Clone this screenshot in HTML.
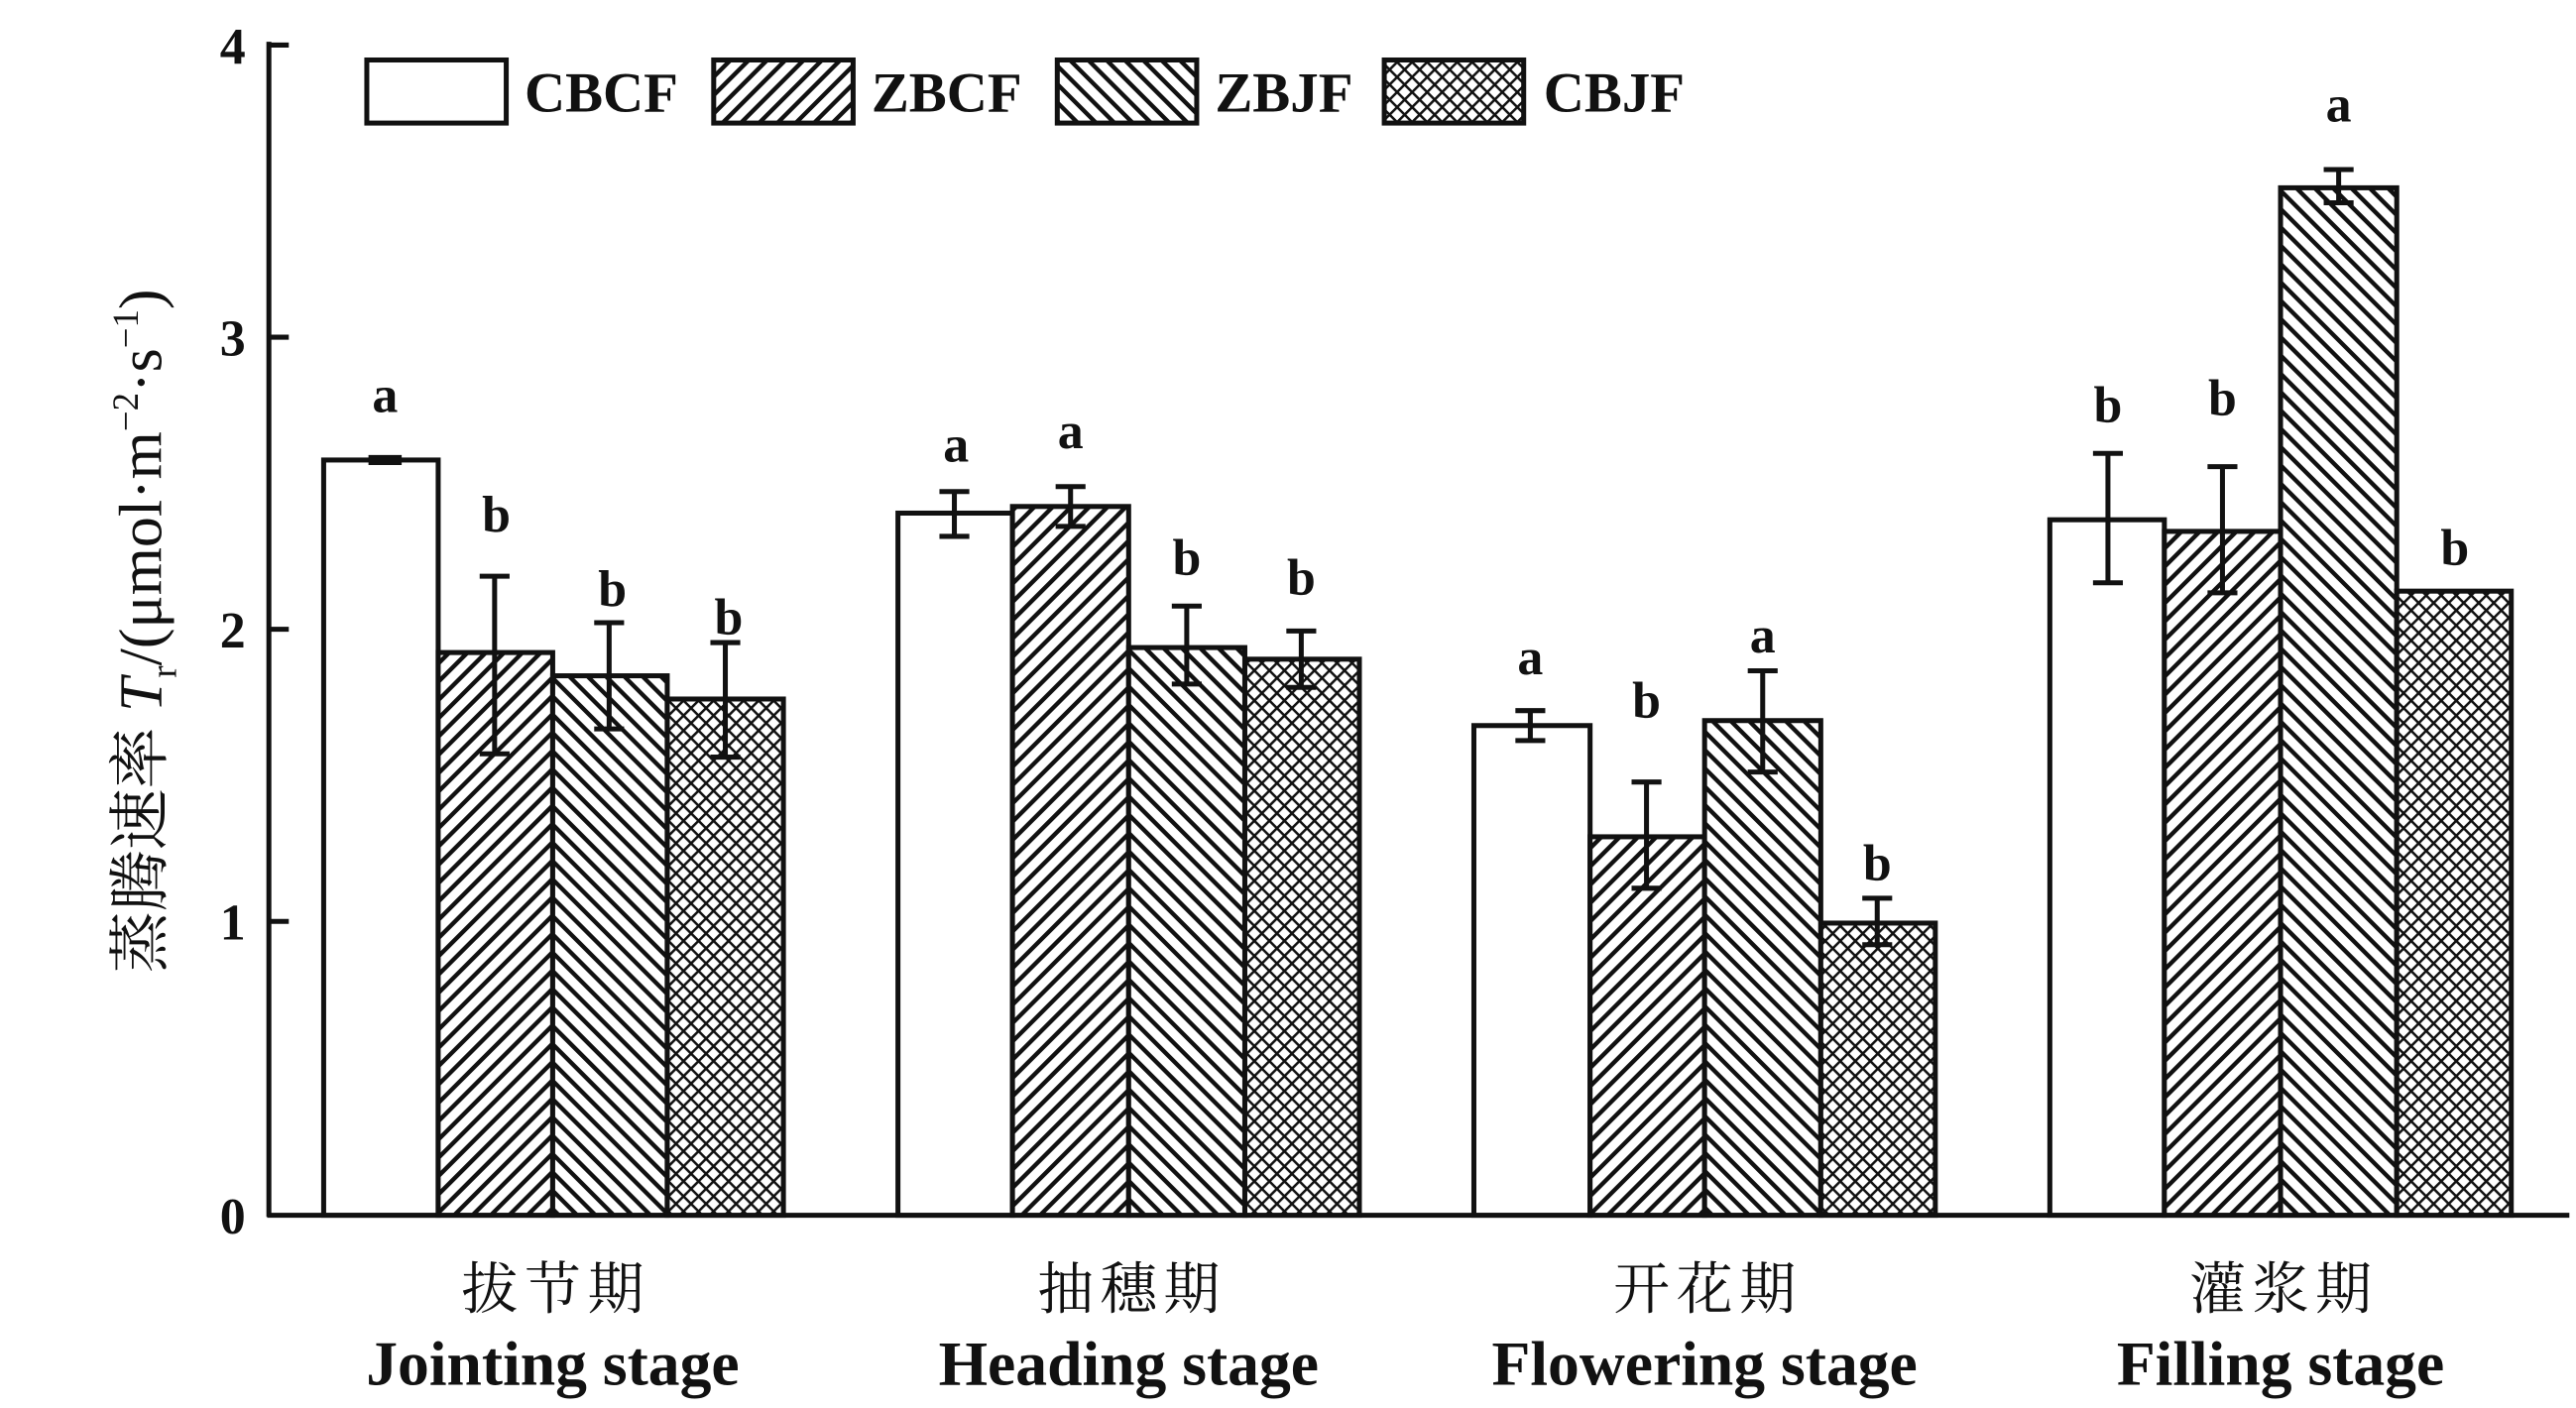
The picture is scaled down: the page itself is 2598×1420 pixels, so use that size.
<!DOCTYPE html>
<html><head><meta charset="utf-8"><style>html,body{margin:0;padding:0;background:#fff}svg{display:block}</style></head>
<body>
<svg width="2598" height="1420" viewBox="0 0 1552 848" xmlns="http://www.w3.org/2000/svg">
<defs>
<pattern id="p1" patternUnits="userSpaceOnUse" width="7.8" height="7.8" patternTransform="rotate(45)"><rect width="7.8" height="7.8" fill="#fff"/><line x1="0" y1="0" x2="0" y2="7.8" stroke="#111" stroke-width="5.2"/></pattern>
<pattern id="p2" patternUnits="userSpaceOnUse" width="7.8" height="7.8" patternTransform="rotate(-45)"><rect width="7.8" height="7.8" fill="#fff"/><line x1="0" y1="0" x2="0" y2="7.8" stroke="#111" stroke-width="5.2"/></pattern>
<pattern id="p3" patternUnits="userSpaceOnUse" width="6.4" height="6.4" patternTransform="rotate(45)"><rect width="6.4" height="6.4" fill="#fff"/><line x1="0" y1="0" x2="0" y2="6.4" stroke="#111" stroke-width="3"/><line x1="0" y1="0" x2="6.4" y2="0" stroke="#111" stroke-width="3"/></pattern>
</defs>
<g font-family="'Liberation Serif','Noto Serif CJK SC',serif" fill="#111">
<line x1="162" y1="25" x2="162" y2="733" stroke="#111" stroke-width="3"/>
<line x1="161" y1="732" x2="1548" y2="732" stroke="#111" stroke-width="3"/>
<g stroke="#111" stroke-width="3">
<line x1="162" y1="27" x2="174" y2="27"/><line x1="162" y1="203" x2="174" y2="203"/><line x1="162" y1="379" x2="174" y2="379"/><line x1="162" y1="555" x2="174" y2="555"/>
</g>
<g font-size="31" font-weight="bold" text-anchor="end">
<text x="148" y="38">4</text><text x="148" y="214">3</text><text x="148" y="390">2</text><text x="148" y="566">1</text><text x="148" y="743">0</text>
</g>
<text transform="translate(97,380) rotate(-90)" font-size="37" text-anchor="middle">蒸腾速率 <tspan font-style="italic">T</tspan><tspan font-size="22" dy="9">r</tspan><tspan dy="-9">/(μmol·m</tspan><tspan font-size="22" dy="-14">−2</tspan><tspan dy="14">·s</tspan><tspan font-size="22" dy="-14">−1</tspan><tspan dy="14">)</tspan></text>

<g stroke="#111" stroke-width="3">
<rect x="221" y="36" width="84" height="38" fill="#fff"/>
<rect x="430" y="36" width="84" height="38" fill="url(#p1)"/>
<rect x="637" y="36" width="84" height="38" fill="url(#p2)"/>
<rect x="834" y="36" width="84" height="38" fill="url(#p3)"/>
</g>
<g font-size="34" font-weight="bold">
<text x="316" y="67">CBCF</text><text x="525" y="67">ZBCF</text><text x="732" y="67">ZBJF</text><text x="930" y="67">CBJF</text>
</g>

<g stroke="#111" stroke-width="3">
<rect x="195" y="277" width="69" height="455" fill="#fff"/>
<rect x="264" y="393" width="69" height="339" fill="url(#p1)"/>
<rect x="333" y="407" width="69" height="325" fill="url(#p2)"/>
<rect x="402" y="421" width="70" height="311" fill="url(#p3)"/>

<rect x="541" y="309" width="69" height="423" fill="#fff"/>
<rect x="610" y="305" width="70" height="427" fill="url(#p1)"/>
<rect x="680" y="390" width="70" height="342" fill="url(#p2)"/>
<rect x="750" y="397" width="69" height="335" fill="url(#p3)"/>

<rect x="888" y="437" width="70" height="295" fill="#fff"/>
<rect x="958" y="504" width="69" height="228" fill="url(#p1)"/>
<rect x="1027" y="434" width="70" height="298" fill="url(#p2)"/>
<rect x="1097" y="556" width="69" height="176" fill="url(#p3)"/>

<rect x="1235" y="313" width="69" height="419" fill="#fff"/>
<rect x="1304" y="320" width="70" height="412" fill="url(#p1)"/>
<rect x="1374" y="113" width="70" height="619" fill="url(#p2)"/>
<rect x="1444" y="356" width="69" height="376" fill="url(#p3)"/>
</g>

<g stroke="#111" stroke-width="3" fill="none">
<path d="M222 277h20" stroke-width="6"/>
<path d="M298 347v107M289 347h18M289 454h18"/>
<path d="M367 375v64M358 375h18M358 439h18"/>
<path d="M437 387v69M428 387h18M428 456h18"/>
<path d="M575 296v27M566 296h18M566 323h18"/>
<path d="M645 293v24M636 293h18M636 317h18"/>
<path d="M715 365v47M706 365h18M706 412h18"/>
<path d="M784 380v34M775 380h18M775 414h18"/>
<path d="M922 428v18M913 428h18M913 446h18"/>
<path d="M992 471v64M983 471h18M983 535h18"/>
<path d="M1062 404v61M1053 404h18M1053 465h18"/>
<path d="M1131 541v28M1122 541h18M1122 569h18"/>
<path d="M1270 273v78M1261 273h18M1261 351h18"/>
<path d="M1339 281v76M1330 281h18M1330 357h18"/>
<path d="M1409 102v20M1400 102h18M1400 122h18"/>
</g>

<g font-size="31" font-weight="bold" text-anchor="middle">
<text x="232" y="248">a</text><text x="299" y="320">b</text><text x="369" y="365">b</text><text x="439" y="382">b</text>
<text x="576" y="278">a</text><text x="645" y="270">a</text><text x="715" y="346">b</text><text x="784" y="358">b</text>
<text x="922" y="406">a</text><text x="992" y="432">b</text><text x="1062" y="393">a</text><text x="1131" y="530">b</text>
<text x="1270" y="254">b</text><text x="1339" y="250">b</text><text x="1409" y="73">a</text><text x="1479" y="340">b</text>
</g>

<g text-anchor="middle" font-size="34" font-family="'Noto Serif CJK SC','Liberation Serif',serif">
<text x="335" y="788" letter-spacing="4">拔节期</text>
<text x="682" y="788" letter-spacing="4">抽穗期</text>
<text x="1029" y="788" letter-spacing="4">开花期</text>
<text x="1376" y="788" letter-spacing="4">灌浆期</text>
</g>
<g text-anchor="middle" font-size="38" font-weight="bold">
<text x="333" y="834">Jointing stage</text>
<text x="680" y="834">Heading stage</text>
<text x="1027" y="834">Flowering stage</text>
<text x="1374" y="834">Filling stage</text>
</g>
</g>
</svg>
</body></html>
